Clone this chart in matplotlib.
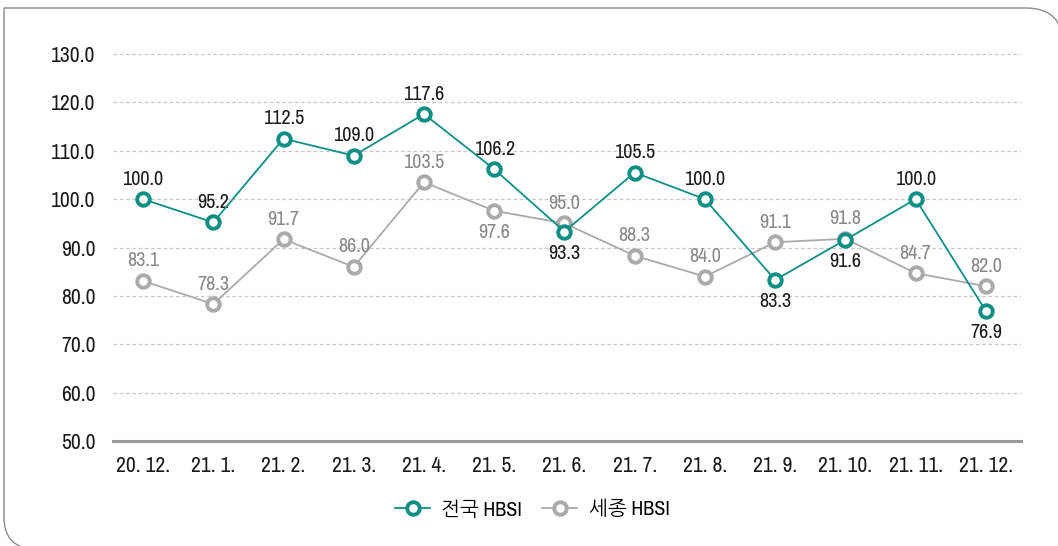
import numpy as np
import matplotlib.pyplot as plt
from matplotlib.patches import PathPatch
from matplotlib.path import Path

months = ['20. 12.', '21. 1.', '21. 2.', '21. 3.', '21. 4.', '21. 5.', '21. 6.',
          '21. 7.', '21. 8.', '21. 9.', '21. 10.', '21. 11.', '21. 12.']
national = [100.0, 95.2, 112.5, 109.0, 117.6, 106.2, 93.3, 105.5, 100.0, 83.3, 91.6, 100.0, 76.9]
sejong = [83.1, 78.3, 91.7, 86.0, 103.5, 97.6, 95.0, 88.3, 84.0, 91.1, 91.8, 84.7, 82.0]

# where each value label sits: +1 above, -1 below
national_pos = [1, 1, 1, 1, 1, 1, -1, 1, 1, -1, -1, 1, -1]
sejong_pos = [1, 1, 1, 1, 1, -1, 1, 1, 1, 1, 1, 1, 1]

teal = '#0e8f86'
grey = '#aaaaaa'
plt.rcParams['font.family'] = ['Archivo Narrow', 'NanumGothic', 'DejaVu Sans']

fig = plt.figure(figsize=(10.58, 5.46), dpi=100)
ax = fig.add_axes([0.102, 0.1923, 0.863, 0.7087])

x = np.arange(len(months))
ax.plot(x, sejong, color=grey, lw=1.3, marker='o', ms=9, mfc='white',
        mec=grey, mew=2.8, label='세종 HBSI', zorder=3, clip_on=False)
ax.plot(x, national, color=teal, lw=1.3, marker='o', ms=9, mfc='white',
        mec=teal, mew=2.8, label='전국 HBSI', zorder=4, clip_on=False)

for vals, pos, col in [(national, national_pos, '#1a1a1a'), (sejong, sejong_pos, '#888888')]:
    for xi, v, p in zip(x, vals, pos):
        ax.annotate('%.1f' % v, (xi, v), xytext=(0, 7.5 if p > 0 else -9),
                    textcoords='offset points', ha='center',
                    va='bottom' if p > 0 else 'top', fontsize=14.5, color=col)

ax.set_xlim(-0.5, 12.5)
ax.set_ylim(50, 130)
ax.set_yticks(np.arange(50, 131, 10))
ax.set_yticklabels(['%.1f' % t for t in np.arange(50, 131, 10)], fontsize=15.5, color='#1a1a1a')
ax.set_xticks(x)
ax.set_xticklabels(months, fontsize=15.5, color='#1a1a1a')
ax.tick_params(length=0)
ax.tick_params(axis='y', pad=9)
ax.tick_params(axis='x', pad=11)

for t in np.arange(60, 131, 10):
    ax.axhline(t, xmin=0.006, color='#c8c8c8', lw=0.9, ls=(0, (3, 2)), zorder=1)
ax.axhline(50, xmin=0.006, color='#999999', lw=2.2, zorder=2, clip_on=False)
for s in ax.spines.values():
    s.set_visible(False)

h, l = ax.get_legend_handles_labels()
fig.legend(h[::-1], l[::-1], loc='center', bbox_to_anchor=(0.503, 0.066), ncol=2,
           frameon=False, fontsize=14.5, handlelength=1.75, columnspacing=1.0,
           handletextpad=0.55)

# outer frame, square top-left, rounded top-right and bottom-left
W, H = 1058, 546
r = 32
verts = [(1058 + 5, 546 - 8 - r - 5), (1058 + 5, 546 - 8), (1058 - r, 546 - 8),
         (4, 546 - 8), (4, r - 3), (4, -3), (4 + r, -3)]
verts = [(px / W, py / H) for px, py in verts]
codes = [Path.MOVETO, Path.CURVE3, Path.CURVE3, Path.LINETO, Path.LINETO,
         Path.CURVE3, Path.CURVE3]
fig.add_artist(PathPatch(Path(verts, codes), transform=fig.transFigure,
                         fill=False, ec='#8a8a8a', lw=1.0))

fig.savefig('out.png', dpi=100)
